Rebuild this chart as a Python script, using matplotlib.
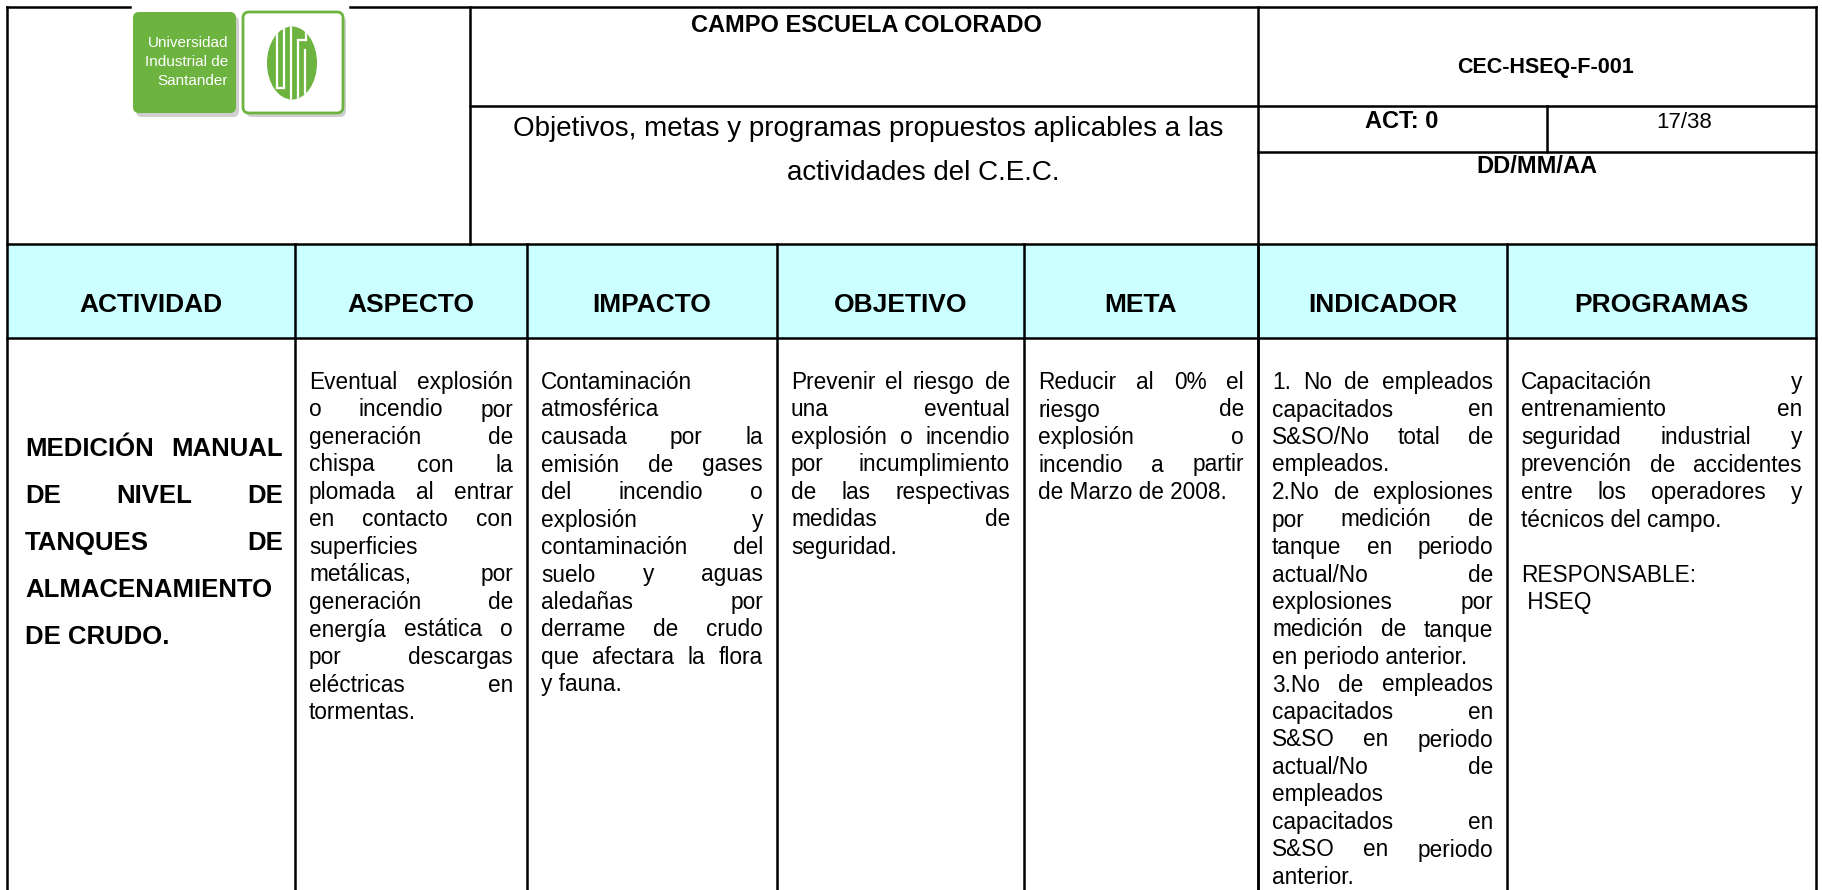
import matplotlib
matplotlib.use('Agg')
import matplotlib.pyplot as plt
from matplotlib.patches import Rectangle, FancyBboxPatch, Ellipse

plt.rcParams['font.family'] = ['Liberation Sans', 'DejaVu Sans']

# --- contenido del formato
titulo = 'CAMPO ESCUELA COLORADO'
subtitulo = ['Objetivos, metas y programas propuestos aplicables a las',
             'actividades del C.E.C.']
codigo = 'CEC-HSEQ-F-001'
version = 'ACT: 0'
pagina = '17/38'
fecha = 'DD/MM/AA'
logo_texto = ['Universidad', 'Industrial de', 'Santander']

encabezados = ['ACTIVIDAD', 'ASPECTO', 'IMPACTO', 'OBJETIVO', 'META',
               'INDICADOR', 'PROGRAMAS']

# cada columna: lista de parrafos, cada parrafo: lista de renglones
actividad = [['MEDICIÓN MANUAL', 'DE NIVEL DE', 'TANQUES DE',
              'ALMACENAMIENTO', 'DE CRUDO.']]
aspecto = [['Eventual explosión', 'o incendio por', 'generación de',
            'chispa con la', 'plomada al entrar', 'en contacto con',
            'superficies', 'metálicas, por', 'generación de',
            'energía estática o', 'por descargas', 'eléctricas en',
            'tormentas.']]
impacto = [['Contaminación', 'atmosférica', 'causada por la',
            'emisión de gases', 'del incendio o', 'explosión y',
            'contaminación del', 'suelo y aguas', 'aledañas por',
            'derrame de crudo', 'que afectara la flora', 'y fauna.']]
objetivo = [['Prevenir el riesgo de', 'una eventual', 'explosión o incendio',
             'por incumplimiento', 'de las respectivas', 'medidas de',
             'seguridad.']]
meta = [['Reducir al 0% el', 'riesgo de', 'explosión o',
         'incendio a partir', 'de Marzo de 2008.']]
indicador = [['1. No de empleados', 'capacitados en', 'S&SO/No total de',
              'empleados.'],
             ['2.No de explosiones', 'por medición de', 'tanque en periodo',
              'actual/No de', 'explosiones por', 'medición de tanque',
              'en periodo anterior.'],
             ['3.No de empleados', 'capacitados en', 'S&SO en periodo',
              'actual/No de', 'empleados', 'capacitados en',
              'S&SO en periodo', 'anterior.']]
programas = [['Capacitación y', 'entrenamiento en', 'seguridad industrial y',
              'prevención de accidentes', 'entre los operadores y',
              'técnicos del campo.'],
             [''],
             ['RESPONSABLE:'],
             [' HSEQ']]

# --- geometria (pixeles)
W, H = 1822, 890
cols = [7, 295, 527, 777, 1024, 1258, 1507, 1816]
verde = '#6DB33F'
lw = 1.8

fig = plt.figure(figsize=(W / 100, H / 100), dpi=100)
ax = fig.add_axes([0, 0, 1, 1])
ax.set_xlim(0, W)
ax.set_ylim(H, 0)
ax.axis('off')
renderer = fig.canvas.get_renderer()


def linea(x0, y0, x1, y1):
    ax.plot([x0, x1], [y0, y1], color='black', lw=lw, solid_capstyle='projecting')


def ancho(s, **kw):
    t = ax.text(0, 0, s, **kw)
    w = t.get_window_extent(renderer).width
    t.remove()
    return w


def justificado(x0, x1, y0, paso, parrafos, **kw):
    y = y0
    for par in parrafos:
        for i, reng in enumerate(par):
            palabras = reng.split()
            if i == len(par) - 1 or len(palabras) < 2:
                ax.text(x0, y, reng, ha='left', va='baseline', **kw)
            else:
                anchos = [ancho(p, **kw) for p in palabras]
                hueco = (x1 - x0 - sum(anchos)) / (len(palabras) - 1)
                x = x0
                for p, w in zip(palabras, anchos):
                    ax.text(x, y, p, ha='left', va='baseline', **kw)
                    x += w + hueco
            y += paso


# fondo del encabezado de la tabla
ax.add_patch(Rectangle((cols[0], 244), cols[-1] - cols[0], 94,
                       facecolor='#CCFFFF', edgecolor='none', zorder=0))

# --- lineas del formato
linea(7, 7, 130, 7)
linea(350, 7, 1816, 7)
linea(7, 7, 7, H)
linea(1816, 7, 1816, H)
linea(470, 7, 470, 244)
linea(1258, 7, 1258, H)
linea(470, 106, 1816, 106)
linea(1258, 152, 1816, 152)
linea(1547, 106, 1547, 152)
linea(7, 244, 1816, 244)
linea(7, 338, 1816, 338)
for x in cols[1:-1]:
    linea(x, 244, x, H)

# --- logo
for x0, w in [(133, 103), (243, 100)]:
    ax.add_patch(FancyBboxPatch((x0 + 3, 16), w, 101,
                                boxstyle='round,pad=0,rounding_size=6',
                                fc='#b0b0b0', ec='none', alpha=0.6))
ax.add_patch(FancyBboxPatch((133, 12), 103, 101,
                            boxstyle='round,pad=0,rounding_size=6',
                            fc=verde, ec='none'))
ax.add_patch(FancyBboxPatch((243, 12), 100, 101,
                            boxstyle='round,pad=0,rounding_size=6',
                            fc='white', ec=verde, lw=2))
for k, s in enumerate(logo_texto):
    ax.text(228, 47 + 19 * k, s, ha='right', va='baseline', color='white',
            fontsize=11)
elipse = Ellipse((292, 63), 50, 73, fc=verde, ec='none')
ax.add_patch(elipse)
trazos = [([277, 277], [20, 88]), ([284, 284], [20, 88]), ([277, 284], [88, 88]),
          ([291, 291], [20, 110]), ([298, 298], [40, 110]), ([298, 306], [40, 40]),
          ([306, 306], [20, 40]), ([305, 305], [50, 110])]
for xs, ys in trazos:
    l, = ax.plot(xs, ys, color='white', lw=1.6)
    l.set_clip_path(elipse)

# --- textos del encabezado
ax.text(866, 32, titulo, ha='center', va='baseline', fontsize=17,
        fontweight='bold')
ax.text(868, 136, subtitulo[0], ha='center', va='baseline', fontsize=20)
ax.text(923, 180, subtitulo[1], ha='center', va='baseline', fontsize=20)
ax.text(1545, 73, codigo, ha='center', va='baseline', fontsize=15.5,
        fontweight='bold')
ax.text(1402, 128, version, ha='center', va='baseline', fontsize=17,
        fontweight='bold')
ax.text(1684, 128, pagina, ha='center', va='baseline', fontsize=16)
ax.text(1537, 173, fecha, ha='center', va='baseline', fontsize=17,
        fontweight='bold')

# --- encabezados de columna
for k, s in enumerate(encabezados):
    ax.text((cols[k] + cols[k + 1]) / 2, 312, s, ha='center', va='baseline',
            fontsize=19, fontweight='bold')

# --- contenido de las celdas
justificado(25, 283, 456, 47, actividad, fontsize=18.5, fontweight='bold')
cuerpos = [aspecto, impacto, objetivo, meta, indicador, programas]
for k, cuerpo in enumerate(cuerpos):
    justificado(cols[k + 1] + 14, cols[k + 2] - 14, 389, 27.5, cuerpo,
                fontsize=16.3)

fig.savefig('out.png', dpi=100)
